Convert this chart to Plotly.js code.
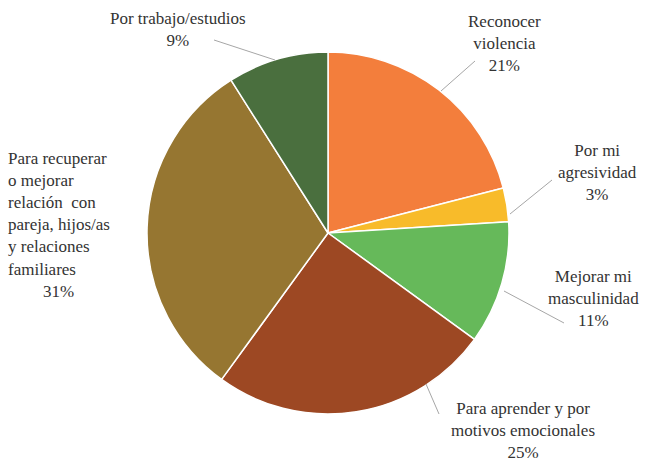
<!DOCTYPE html>
<html>
<head>
<meta charset="utf-8">
<script src="https://cdn.plot.ly/plotly-3.0.1.min.js"></script>
<style>html,body{margin:0;padding:0;background:#fff;}#chart{width:647px;height:468px;}</style>
</head>
<body>
<div id="chart"></div>
<script>
// Data
const categories = [
  "Reconocer violencia",
  "Por mi agresividad",
  "Mejorar mi masculinidad",
  "Para aprender y por motivos emocionales",
  "Para recuperar o mejorar relación  con pareja, hijos/as y relaciones familiares",
  "Por trabajo/estudios"
];
const values = [21, 3, 11, 25, 31, 9];
const labelLines = [
  ["Reconocer", "violencia"],
  ["Por mi", "agresividad"],
  ["Mejorar mi", "masculinidad"],
  ["Para aprender y por", "motivos emocionales"],
  ["Para recuperar", "o mejorar", "relación&nbsp; con", "pareja, hijos/as", "y relaciones", "familiares"],
  ["Por trabajo/estudios"]
];
const colors = ["#F37E3C", "#F8BB2A", "#66B95A", "#9D4823", "#967631", "#4A6F3E"];

// Layout helpers (pixel -> paper)
const W = 647, H = 468;
const px = x => x / W;
const py = y => 1 - y / H;
const cx = 328, cy = 233, r = 181;

const total = values.reduce((a, b) => a + b, 0);
const pct = values.map(v => Math.round(v / total * 100) + "%");

// label placement (center pixel positions) and leader lines
const labelPos = [
  {x: 504, y: 43, align: "center"},
  {x: 597, y: 172, align: "center"},
  {x: 593, y: 298, align: "center"},
  {x: 523, y: 430, align: "center"},
  {x: 6, y: 214, align: "left"},
  {x: 178, y: 29, align: "center"}
];
const leaders = [
  [441, 91, 475, 61],
  [510, 214, 552, 180],
  [504, 291, 564, 323],
  [426, 384, 439, 414],
  null,
  [275, 60, 214, 40]
];

const font = {family: "Times New Roman, Liberation Serif, DejaVu Serif, serif", size: 17, color: "#333333"};
const annotations = [];
labelLines.forEach((lines, i) => {
  const p = labelPos[i];
  if (p.align === "left") {
    annotations.push({
      xref: "paper", yref: "paper", x: px(p.x), y: py(p.y),
      xanchor: "left", yanchor: "middle", align: "left", showarrow: false,
      text: lines.join("<br>"), font: font
    });
    annotations.push({
      xref: "paper", yref: "paper", x: px(58), y: py(291),
      xanchor: "center", yanchor: "middle", showarrow: false,
      text: pct[i], font: font
    });
  } else {
    annotations.push({
      xref: "paper", yref: "paper", x: px(p.x), y: py(p.y),
      xanchor: "center", yanchor: "middle", align: "center", showarrow: false,
      text: lines.concat([pct[i]]).join("<br>"), font: font
    });
  }
});
const shapes = leaders.filter(l => l).map(l => ({
  type: "line", xref: "paper", yref: "paper",
  x0: px(l[0]), y0: py(l[1]), x1: px(l[2]), y1: py(l[3]),
  line: {color: "#A6A6A6", width: 1}
}));

const trace = {
  type: "pie",
  labels: categories,
  values: values,
  sort: false,
  direction: "clockwise",
  rotation: 0,
  textinfo: "none",
  hoverinfo: "label+percent",
  marker: {colors: colors, line: {color: "#FFFFFF", width: 1.5}},
  domain: {x: [px(cx - r), px(cx + r)], y: [py(cy + r), py(cy - r)]}
};

const layout = {
  width: W, height: H,
  margin: {l: 0, r: 0, t: 0, b: 0},
  paper_bgcolor: "#FFFFFF",
  font: font,
  showlegend: false,
  annotations: annotations,
  shapes: shapes
};

Plotly.newPlot("chart", [trace], layout, {displayModeBar: false, staticPlot: true});
</script>
</body>
</html>
